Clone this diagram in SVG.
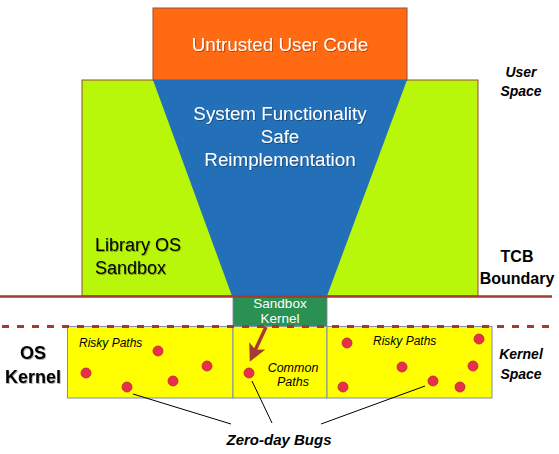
<svg xmlns="http://www.w3.org/2000/svg" width="559" height="454" viewBox="0 0 559 454">
<defs>
<filter id="sh" x="-10%" y="-10%" width="120%" height="130%"><feDropShadow dx="0.8" dy="1" stdDeviation="0.6" flood-color="#000" flood-opacity="0.35"/></filter>
<marker id="ah" viewBox="0 0 10 10" refX="7" refY="5" markerWidth="5" markerHeight="5" orient="auto"><path d="M0,0 L10,5 L0,10 L2.5,5 z" fill="#A33A36"/></marker>
</defs>
<style>
.w{fill:#fff;font-family:"Liberation Sans",Arial,sans-serif;text-anchor:middle}
.b{fill:#000;font-family:"Liberation Sans",Arial,sans-serif}
.lab{fill:#000;font-family:"Liberation Sans",Arial,sans-serif;font-weight:bold;text-anchor:middle}
.it{font-style:italic}
.dot{fill:#E8304A;stroke:#B8243C;stroke-width:0.8}
.yb{fill:#FFFF00;stroke:#7F8FA6;stroke-width:1}
.ln{stroke:#000;stroke-width:1;fill:none}
</style>
<g id="library-os">
<rect x="82" y="80" width="396" height="216" fill="#B8F70A" stroke="#9B4A30" stroke-width="1"/>
<text class="b" x="95" y="251" font-size="18" filter="url(#sh)">Library OS</text>
<text class="b" x="95" y="274" font-size="18" filter="url(#sh)">Sandbox</text>
</g>
<g id="untrusted">
<rect x="153" y="8" width="254" height="72" fill="#FF6A13" stroke="#9B4A30" stroke-width="1"/>
<text class="w" x="280" y="51" font-size="18.8" filter="url(#sh)">Untrusted User Code</text>
</g>
<g id="system-functionality">
<polygon points="153,80 407,80 327,296 232,296" fill="#2370B8"/>
<text class="w" x="280" y="120" font-size="18.8" filter="url(#sh)">System Functionality</text>
<text class="w" x="280" y="143" font-size="18.8" filter="url(#sh)">Safe</text>
<text class="w" x="280" y="166" font-size="18.8" filter="url(#sh)">Reimplementation</text>
</g>
<g id="sandbox-kernel">
<rect x="233" y="296" width="94" height="30" fill="#2A9152" stroke="#8A78A8" stroke-width="0.8"/>
<text class="w" x="280" y="308" font-size="13.5">Sandbox</text>
<text class="w" x="280" y="323" font-size="13.5">Kernel</text>
</g>
<g id="boundaries">
<line x1="0" y1="296.5" x2="552" y2="296.5" stroke="#A33A36" stroke-width="2.5"/>
</g>
<g id="risky-left">
<rect class="yb" x="67.5" y="326.5" width="165.5" height="71.5"/>
<text class="b it" x="79" y="347" font-size="12">Risky Paths</text>
<circle class="dot" cx="158" cy="351" r="5"/>
<circle class="dot" cx="86" cy="373" r="5"/>
<circle class="dot" cx="207" cy="366" r="5"/>
<circle class="dot" cx="173" cy="381" r="5"/>
<circle class="dot" cx="127" cy="387" r="5"/>
</g>
<g id="common-paths">
<rect class="yb" x="233" y="326.5" width="94" height="71.5"/>
<text class="b it" x="293" y="372" font-size="12.5" text-anchor="middle">Common</text>
<text class="b it" x="293" y="386" font-size="12.5" text-anchor="middle">Paths</text>
<circle class="dot" cx="249" cy="373" r="5"/>
</g>
<g id="risky-right">
<rect class="yb" x="327" y="326.5" width="165" height="71.5"/>
<text class="b it" x="373" y="345" font-size="12">Risky Paths</text>
<circle class="dot" cx="347" cy="343" r="5"/>
<circle class="dot" cx="479" cy="339" r="5"/>
<circle class="dot" cx="402" cy="367" r="5"/>
<circle class="dot" cx="473" cy="366" r="5"/>
<circle class="dot" cx="343" cy="387" r="5"/>
<circle class="dot" cx="433" cy="381" r="5"/>
<circle class="dot" cx="460" cy="387" r="5"/>
</g>
<g id="kernel-line">
<line x1="2" y1="326.5" x2="552" y2="326.5" stroke="#A33A36" stroke-width="3" stroke-dasharray="7,8"/>
</g>
<g id="labels">
<text class="lab it" x="521" y="77" font-size="14">User</text>
<text class="lab it" x="521" y="96" font-size="14">Space</text>
<text class="lab" x="517" y="262" font-size="16">TCB</text>
<text class="lab" x="517" y="284" font-size="16">Boundary</text>
<text class="lab it" x="521" y="359" font-size="14">Kernel</text>
<text class="lab it" x="521" y="379" font-size="14">Space</text>
<text class="lab" x="33" y="359" font-size="18" filter="url(#sh)">OS</text>
<text class="lab" x="33" y="383" font-size="18" filter="url(#sh)">Kernel</text>
<text class="lab it" x="279" y="445" font-size="15">Zero-day Bugs</text>
</g>
<g id="connectors">
<line x1="266" y1="327" x2="252" y2="357" stroke="#A33A36" stroke-width="3.5" marker-end="url(#ah)"/>
<line class="ln" x1="133" y1="394" x2="231" y2="424"/>
<line class="ln" x1="252" y1="381" x2="272" y2="423"/>
<line class="ln" x1="425" y1="386" x2="321" y2="424"/>
</g>
</svg>
